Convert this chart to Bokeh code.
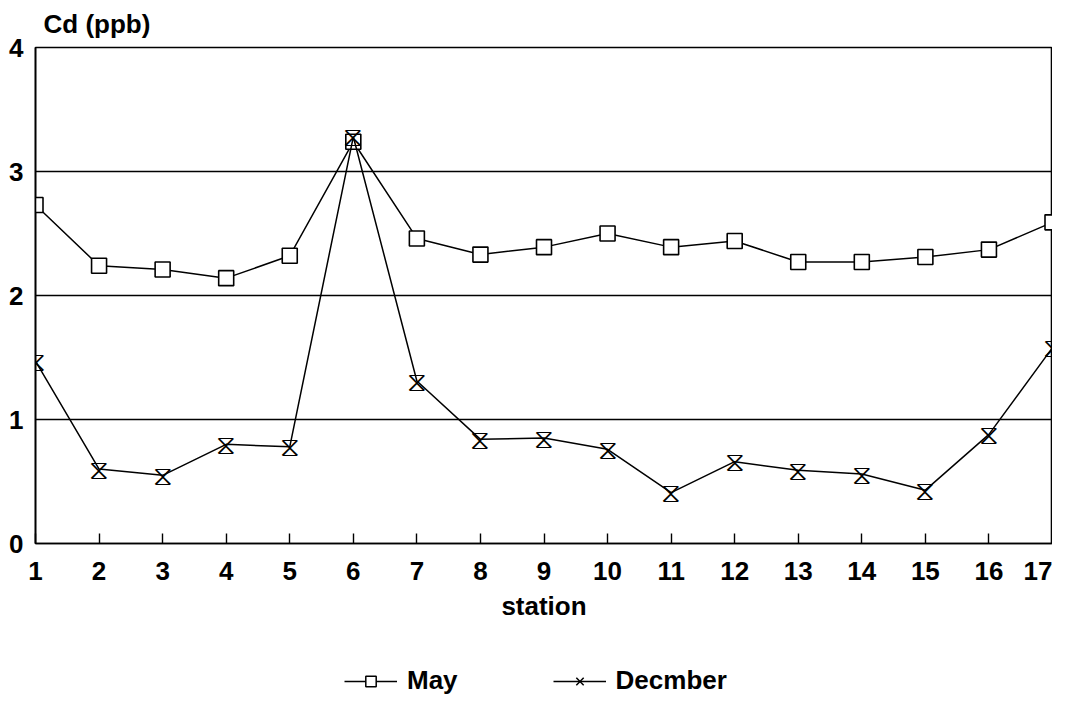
from bokeh.plotting import figure
from bokeh.layouts import column
from bokeh.models import (ColumnDataSource, FixedTicker, Range1d, Legend, LegendItem, Title)
from bokeh.core.properties import value
from bokeh.embed import file_html
from bokeh.resources import INLINE

stations = list(range(1, 18))
may = [2.73, 2.24, 2.21, 2.14, 2.32, 3.24, 2.46, 2.33, 2.39, 2.50, 2.39, 2.44, 2.27, 2.27, 2.31, 2.37, 2.59]
december = [1.47, 0.60, 0.55, 0.80, 0.78, 3.28, 1.31, 0.84, 0.85, 0.76, 0.41, 0.66, 0.59, 0.56, 0.43, 0.88, 1.58]
y_ticks = [0, 1, 2, 3, 4]
series_labels = ["May", "Decmber"]

FONT = "Liberation Sans"

src = ColumnDataSource(dict(x=stations, may=may, dec=december, hg=["⧖"] * len(stations)))

p = figure(width=1052, height=640, output_backend="svg", toolbar_location=None,
           x_range=Range1d(1, 17), y_range=Range1d(0, 4),
           min_border_left=35, min_border_right=0, min_border_top=45, min_border_bottom=97)

p.add_layout(Title(text="Cd (ppb)", align="left", vertical_align="middle", text_font=FONT,
                   text_font_size="26px", text_font_style="bold", text_color="black",
                   offset=8, standoff=15), "above")

p.outline_line_color = "black"
p.outline_line_width = 1.6

p.xgrid.visible = False
p.ygrid.ticker = FixedTicker(ticks=y_ticks)
p.ygrid.grid_line_color = "black"
p.ygrid.grid_line_width = 1.4

p.xaxis.ticker = FixedTicker(ticks=stations)
p.xaxis.axis_label = "station"
p.xaxis.major_tick_in = 10
p.xaxis.major_tick_out = 0
p.xaxis.minor_tick_line_color = None
p.xaxis.major_label_standoff = 18
p.xaxis.axis_label_standoff = 8
p.yaxis.ticker = FixedTicker(ticks=y_ticks)
p.yaxis.major_tick_in = 0
p.yaxis.major_tick_out = 0
p.yaxis.minor_tick_line_color = None
p.yaxis.major_label_standoff = 12
for ax in (p.xaxis, p.yaxis):
    ax.axis_line_color = "black"
    ax.axis_line_width = 1.6
    ax.major_tick_line_color = "black"
    ax.major_tick_line_width = 1.4
    ax.major_label_text_font = FONT
    ax.major_label_text_font_size = "26px"
    ax.major_label_text_font_style = "bold"
    ax.major_label_text_color = "black"
    ax.axis_label_text_font = FONT
    ax.axis_label_text_font_size = "26px"
    ax.axis_label_text_font_style = "bold"
    ax.axis_label_text_color = "black"

p.line("x", "may", source=src, line_color="black", line_width=1.5)
p.scatter("x", "may", source=src, marker="square", size=15, fill_color="white",
          line_color="black", line_width=1.6)
p.line("x", "dec", source=src, line_color="black", line_width=1.5)
p.text("x", "dec", text="hg", source=src, text_font=value("DejaVu Sans"),
       text_font_size="28px", text_align="center", text_baseline="middle", text_color="black")

# legend strip below the chart (its own renderers are kept outside its visible range)
q = figure(width=1052, height=56, output_backend="svg", toolbar_location=None,
           x_range=Range1d(100, 101), y_range=Range1d(100, 101),
           x_axis_location=None, y_axis_location=None,
           min_border_left=0, min_border_right=0, min_border_top=0, min_border_bottom=0)
q.outline_line_color = None
q.xgrid.visible = False
q.ygrid.visible = False
ql1 = q.line("x", "may", source=src, line_color="black", line_width=1.5)
qs1 = q.scatter("x", "may", source=src, marker="square", size=12, fill_color="white",
                line_color="black", line_width=1.5)
ql2 = q.line("x", "dec", source=src, line_color="black", line_width=1.5)
qs2 = q.scatter("x", "dec", source=src, marker="x", size=12, line_color="black", line_width=1.5)

legend = Legend(items=[LegendItem(label=series_labels[0], renderers=[ql1, qs1]),
                       LegendItem(label=series_labels[1], renderers=[ql2, qs2])],
                orientation="horizontal", location=(309, 0),
                border_line_color=None, background_fill_alpha=0, padding=0, margin=0,
                label_text_font=FONT, label_text_font_size="26px", label_text_font_style="bold",
                label_text_color="black", glyph_width=53, glyph_height=26, label_height=24,
                label_standoff=10, spacing=95)
q.add_layout(legend, "center")

root = column(p, q, spacing=0)
open("out.html", "w").write(file_html(root, INLINE))
